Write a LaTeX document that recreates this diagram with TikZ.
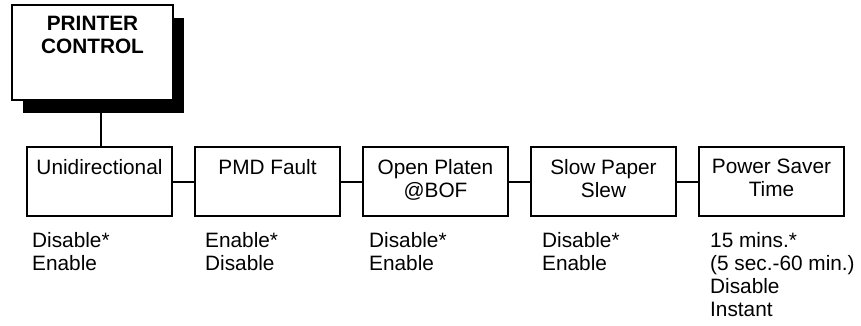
\documentclass[tikz,border=0pt]{standalone}
\usepackage{fontspec}
\setmainfont{Liberation Sans}
\usepackage{tikz}
\usetikzlibrary{positioning,shadows}

\begin{document}
\begin{tikzpicture}[
    x=1pt, y=1pt,
    node distance=168pt,
    every node/.style={font=\fontsize{20.8}{23}\selectfont},
    menu/.style={
        rectangle,
        draw,
        fill=white,
        line width=2pt,
        minimum width=161pt,
        minimum height=95pt,
        inner sep=0pt,
        drop shadow={shadow xshift=11pt, shadow yshift=-13pt, opacity=1, fill=black}
    },
    item/.style={
        rectangle,
        draw,
        line width=2pt,
        minimum width=145pt,
        minimum height=69pt,
        inner sep=0pt,
        align=center
    },
    choices/.style={align=left, inner sep=0pt},
    link/.style={line width=2pt}
]
\useasboundingbox (0,0) rectangle (861,-325);

% Nodes
\node (printer) [menu, label={[anchor=north, yshift=-12pt, inner sep=0pt, align=center,
    font=\fontsize{20.8}{23}\selectfont\bfseries]north:{PRINTER\\CONTROL}}] at (92.5,-52.5) {};

\node (unidir) [item] at (99.5,-181.5) {Unidirectional\\\strut};

\node (pmd) [item, right of=unidir] {PMD Fault\\\strut};

\node (platen) [item, right of=pmd] {Open Platen\\@BOF\strut};

\node (slew) [item, right of=platen] {Slow Paper\\Slew\strut};

\node (saver) [item, right of=slew] {Power Saver\\Time\strut};

% Choices
\node (unidiropts) [choices, below right=15pt and 6pt of unidir.south west] {Disable*\\Enable};
\node (pmdopts) [choices, below right=15pt and 11pt of pmd.south west] {Enable*\\Disable};
\node (platenopts) [choices, below right=15pt and 7pt of platen.south west] {Disable*\\Enable};
\node (slewopts) [choices, below right=15pt and 12pt of slew.south west] {Disable*\\Enable};
\node (saveropts) [choices, below right=15pt and 12pt of saver.south west]
{15 mins.*\\(5 sec.-60 min.)\\Disable\\Instant};

% Lines
\draw [link] ([xshift=1.5pt]unidir.north) -- ([xshift=1.5pt]unidir.north |- printer.south);
\draw [link] (unidir) -- (pmd);
\draw [link] (pmd) -- (platen);
\draw [link] (platen) -- (slew);
\draw [link] (slew) -- (saver);

\end{tikzpicture}
\end{document}
